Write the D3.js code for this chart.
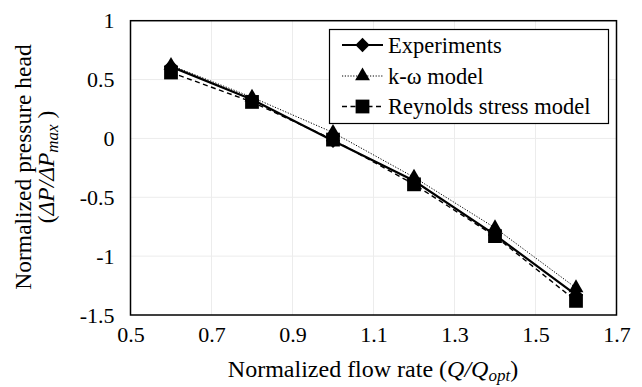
<!DOCTYPE html>
<html>
<head>
<meta charset="utf-8">
<script src="https://cdn.jsdelivr.net/npm/d3@7"></script>
<style>
  html, body { margin: 0; padding: 0; background: #fff; }
  svg { display: block; font-family: "Liberation Serif", "Times New Roman", serif; }
</style>
</head>
<body>
<svg id="chart" width="642" height="387"></svg>
<script>
// Normalized flow rate (Q/Qopt) at each operating point
const flowRates = [0.6, 0.8, 1.0, 1.2, 1.4, 1.6];
// Normalized pressure head (ΔP/ΔPmax) per series
const experiments = [0.61, 0.33, -0.02, -0.36, -0.82, -1.33];
const kOmegaModel = [0.62, 0.35, 0.05, -0.33, -0.76, -1.27];
const reynoldsStress = [0.56, 0.31, -0.01, -0.39, -0.83, -1.38];
// Axis ticks
const xTicks = [0.5, 0.7, 0.9, 1.1, 1.3, 1.5, 1.7];
const yTicks = [1, 0.5, 0, -0.5, -1, -1.5];
const seriesNames = ["Experiments", "k-ω model", "Reynolds stress model"];

const svg = d3.select("#chart");
const plotL = 130.5, plotR = 616.5, plotT = 20.7, plotB = 315;
const FONT = "Liberation Serif";

const x = d3.scaleLinear().domain([0.5, 1.7]).range([plotL, plotR]);
const y = d3.scaleLinear().domain([-1.5, 1]).range([plotB, plotT]);

// Gridlines
const grid = svg.append("g");
grid.selectAll("line.v").data(xTicks.slice(1, -1)).join("line")
  .attr("x1", d => x(d)).attr("x2", d => x(d))
  .attr("y1", plotT).attr("y2", plotB)
  .attr("stroke", "#ececec").attr("stroke-width", 1);
grid.selectAll("line.h").data(yTicks.slice(1, -1)).join("line")
  .attr("x1", plotL).attr("x2", plotR)
  .attr("y1", d => y(d)).attr("y2", d => y(d))
  .attr("stroke", "#ececec").attr("stroke-width", 1);

// Axes (labels only; frame drawn separately)
const xAxis = d3.axisBottom(x).tickValues(xTicks).tickSize(0).tickPadding(11)
  .tickFormat(d3.format(".1f"));
const gx = svg.append("g").attr("transform", `translate(0,${plotB})`).call(xAxis);
gx.select(".domain").remove();
gx.attr("font-family", FONT).attr("font-size", 22);
gx.selectAll("text").attr("fill", "#000");

const yAxis = d3.axisLeft(y).tickValues(yTicks).tickSize(0).tickPadding(16)
  .tickFormat(d => String(d));
const gy = svg.append("g").attr("transform", `translate(${plotL},0)`).call(yAxis);
gy.select(".domain").remove();
gy.attr("font-family", FONT).attr("font-size", 22);
gy.selectAll("text").attr("fill", "#000");

// Plot frame
svg.append("rect").attr("x", plotL).attr("y", plotT)
  .attr("width", plotR - plotL).attr("height", plotB - plotT)
  .attr("fill", "none").attr("stroke", "#000").attr("stroke-width", 1.5);

const pts = vals => flowRates.map((q, i) => [q, vals[i]]);
const line = d3.line().x(d => x(d[0])).y(d => y(d[1]));

const styles = [
  { data: experiments, width: 2.2, dash: null, symbol: d3.symbolDiamond2, size: 130 },
  { data: kOmegaModel, width: 1, dash: "1.2,1.6", symbol: d3.symbolTriangle, size: 95 },
  { data: reynoldsStress, width: 1.4, dash: "5,3.5", symbol: d3.symbolSquare, size: 190 }
];

styles.forEach(s => {
  svg.append("path").datum(pts(s.data)).attr("d", line)
    .attr("fill", "none").attr("stroke", "#000")
    .attr("stroke-width", s.width).attr("stroke-dasharray", s.dash);
});
styles.forEach(s => {
  svg.append("g").selectAll("path").data(pts(s.data)).join("path")
    .attr("transform", d => `translate(${x(d[0])},${y(d[1])})`)
    .attr("d", d3.symbol().type(s.symbol).size(s.size))
    .attr("fill", "#000");
});

// Legend
const lg = svg.append("g");
lg.append("rect").attr("x", 329.5).attr("y", 29.5).attr("width", 279).attr("height", 94)
  .attr("fill", "#fff").attr("stroke", "#000").attr("stroke-width", 1.2);
const rowY = [45, 76, 106.5];
styles.forEach((s, i) => {
  lg.append("line").attr("x1", 342).attr("x2", 383).attr("y1", rowY[i]).attr("y2", rowY[i])
    .attr("stroke", "#000").attr("stroke-width", s.width).attr("stroke-dasharray", s.dash);
  lg.append("path").attr("transform", `translate(362.5,${rowY[i]})`)
    .attr("d", d3.symbol().type(s.symbol).size(s.size))
    .attr("fill", "#000");
  lg.append("text").attr("x", 388).attr("y", rowY[i]).attr("dy", "0.35em")
    .attr("font-family", FONT).attr("font-size", 22.5).text(seriesNames[i]);
});

// X axis title
const xt = svg.append("text").attr("x", 373).attr("y", 377)
  .attr("text-anchor", "middle").attr("font-family", FONT).attr("font-size", 24);
xt.append("tspan").text("Normalized flow rate (");
xt.append("tspan").attr("font-style", "italic").text("Q/Q");
xt.append("tspan").attr("font-style", "italic").attr("font-size", 17).attr("dy", 4).text("opt");
xt.append("tspan").attr("dy", -4).text(")");

// Y axis title (two lines)
const yt = svg.append("g").attr("transform", "translate(0,167) rotate(-90)");
yt.append("text").attr("x", 0).attr("y", 31).attr("text-anchor", "middle")
  .attr("font-family", FONT).attr("font-size", 23.5).text("Normalized pressure head");
const yt2 = yt.append("text").attr("x", 0).attr("y", 54).attr("text-anchor", "middle")
  .attr("font-family", FONT).attr("font-size", 23.5);
yt2.append("tspan").text("(");
yt2.append("tspan").attr("font-style", "italic").text("ΔP/ΔP");
yt2.append("tspan").attr("font-style", "italic").attr("font-size", 17).attr("dy", 4).text("max");
yt2.append("tspan").attr("dy", -4).text(" )");
</script>
</body>
</html>
